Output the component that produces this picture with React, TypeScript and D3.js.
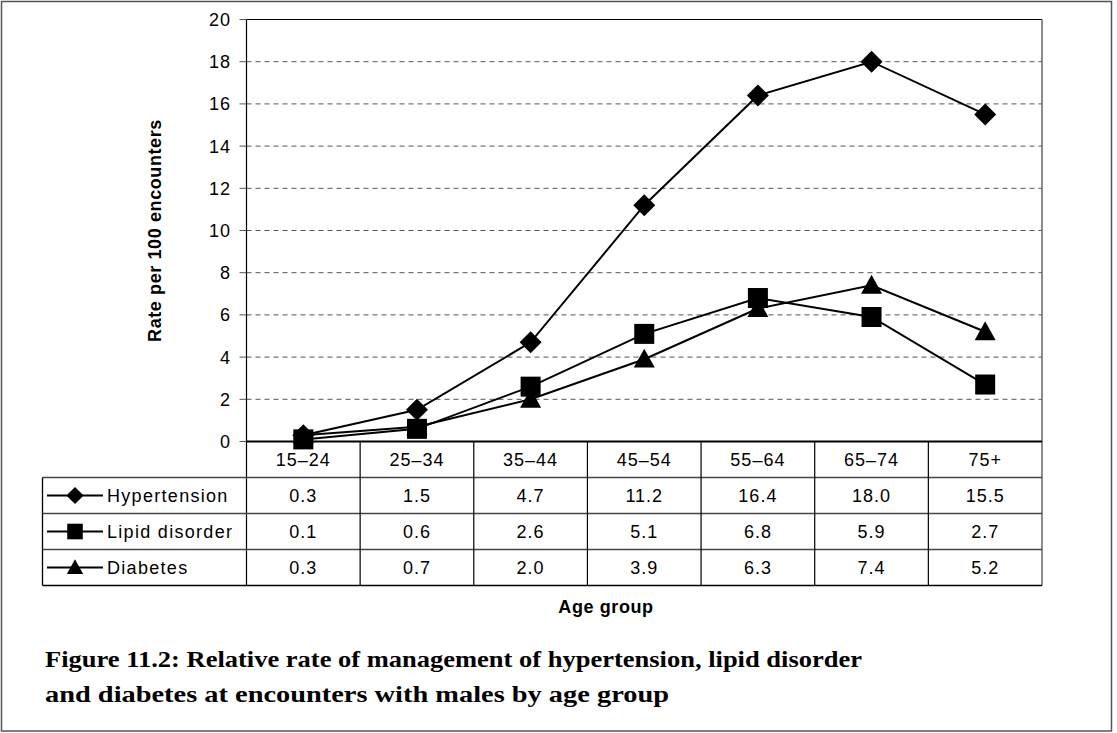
import React from "react";
import * as d3 from "d3";

const categories = ["15–24", "25–34", "35–44", "45–54", "55–64", "65–74", "75+"];
const hypertension = [0.3, 1.5, 4.7, 11.2, 16.4, 18.0, 15.5];
const lipid = [0.1, 0.6, 2.6, 5.1, 6.8, 5.9, 2.7];
const diabetes = [0.3, 0.7, 2.0, 3.9, 6.3, 7.4, 5.2];
const seriesNames = ["Hypertension", "Lipid disorder", "Diabetes"];
const yTicks = [0, 2, 4, 6, 8, 10, 12, 14, 16, 18, 20];

const series = [
  { name: seriesNames[0], values: hypertension, marker: "diamond" },
  { name: seriesNames[1], values: lipid, marker: "square" },
  { name: seriesNames[2], values: diabetes, marker: "triangle" },
];

const W = 1117;
const H = 733;
const left = 246.5;
const right = 1042;
const top = 19.5;
const bottom = 441.5;
const tableLeft = 42.5;
const rowH = 36;
const sans = "'Liberation Sans', Arial, sans-serif";
const serif = "'Liberation Serif', 'Times New Roman', serif";

function Marker({ type, x, y, k = 1 }: { type: string; x: number; y: number; k?: number }) {
  if (type === "diamond") {
    const s = 11 * k;
    return <path d={`M${x},${y - s}L${x + s},${y}L${x},${y + s}L${x - s},${y}Z`} fill="#000" />;
  }
  if (type === "square") {
    const s = 10 * k;
    return <rect x={x - s} y={y - s} width={2 * s} height={2 * s} fill="#000" />;
  }
  const s = 10.5 * k;
  return <path d={`M${x},${y - s}L${x + s},${y + s * 0.8}L${x - s},${y + s * 0.8}Z`} fill="#000" />;
}

export default function App() {
  const x = d3.scaleBand<string>().domain(categories).range([left, right]);
  const y = d3.scaleLinear().domain([0, 20]).range([bottom, top]);
  const cx = (c: string) => (x(c) as number) + x.bandwidth() / 2;
  const line = d3
    .line<number>()
    .x((_, i) => cx(categories[i]))
    .y((v) => y(v));

  const rowTop = (i: number) => bottom + rowH * (i + 1);

  return (
    <svg width={W} height={H} style={{ position: "absolute", left: 0, top: 0, background: "#fff" }}>
      <rect x={1.5} y={1.5} width={1110} height={729.5} fill="#fff" stroke="#555" strokeWidth={1.5} />
      {/* gridlines */}
      {yTicks.filter((t) => t > 0 && t < 20).map((t) => (
        <line key={t} x1={left} x2={right} y1={y(t)} y2={y(t)} stroke="#555" strokeDasharray="5,4" strokeWidth={1} />
      ))}
      {/* plot box */}
      <line x1={left} x2={right} y1={top} y2={top} stroke="#000" strokeWidth={1.2} />
      <line x1={right} x2={right} y1={top} y2={rowTop(3)} stroke="#666" strokeWidth={1.5} />
      <line x1={left} x2={left} y1={top} y2={rowTop(3)} stroke="#000" strokeWidth={1.2} />
      {/* y ticks */}
      {yTicks.map((t) => (
        <g key={t}>
          <line x1={left - 7} x2={left} y1={y(t)} y2={y(t)} stroke="#555" strokeWidth={1} />
          <text x={231} y={y(t)} dy="0.36em" textAnchor="end" fontFamily={sans} fontSize={18} letterSpacing={1}>
            {t}
          </text>
        </g>
      ))}
      <text
        transform={`translate(161,${(top + bottom) / 2}) rotate(-90)`}
        textAnchor="middle"
        fontFamily={sans}
        fontWeight="bold"
        fontSize={18}
        letterSpacing={0.6}
      >
        Rate per 100 encounters
      </text>
      {/* table */}
      {[0, 1, 2].map((i) => (
        <line key={i} x1={tableLeft} x2={right} y1={rowTop(i)} y2={rowTop(i)} stroke="#444" strokeWidth={1.3} />
      ))}
      <line x1={tableLeft} x2={right} y1={rowTop(3)} y2={rowTop(3)} stroke="#000" strokeWidth={1.3} />
      <line x1={tableLeft} x2={tableLeft} y1={rowTop(0)} y2={rowTop(3)} stroke="#000" strokeWidth={1.3} />
      {categories.slice(1).map((c) => (
        <line key={c} x1={x(c) as number} x2={x(c) as number} y1={bottom} y2={rowTop(3)} stroke="#000" strokeWidth={1.2} />
      ))}
      {categories.map((c) => (
        <text key={c} x={cx(c)} y={bottom + rowH / 2} dy="0.36em" textAnchor="middle" fontFamily={sans} fontSize={18} letterSpacing={1}>
          {c}
        </text>
      ))}
      {series.map((s, i) => {
        const my = rowTop(i) + rowH / 2;
        return (
          <g key={s.name}>
            <line x1={47} x2={103} y1={my} y2={my} stroke="#000" strokeWidth={2} />
            <Marker type={s.marker} x={75} y={my} k={0.78} />
            <text x={107} y={my} dy="0.36em" fontFamily={sans} fontSize={18} letterSpacing={1.3}>
              {s.name}
            </text>
            {s.values.map((v, j) => (
              <text key={j} x={cx(categories[j])} y={my} dy="0.36em" textAnchor="middle" fontFamily={sans} fontSize={18} letterSpacing={1}>
                {v.toFixed(1)}
              </text>
            ))}
          </g>
        );
      })}
      {/* x axis line */}
      <line x1={left} x2={right} y1={bottom} y2={bottom} stroke="#000" strokeWidth={2} />
      {/* series */}
      {series.map((s) => (
        <g key={s.name}>
          <path d={line(s.values) as string} fill="none" stroke="#000" strokeWidth={2} />
          {s.values.map((v, j) => (
            <Marker key={j} type={s.marker} x={cx(categories[j])} y={y(v)} />
          ))}
        </g>
      ))}
      <text x={606} y={607} dy="0.36em" textAnchor="middle" fontFamily={sans} fontWeight="bold" fontSize={18} letterSpacing={0.6}>
        Age group
      </text>
      <text x={45} y={667} fontFamily={serif} fontWeight="bold" fontSize={24} textLength={817} lengthAdjust="spacingAndGlyphs">
        Figure 11.2: Relative rate of management of hypertension, lipid disorder
      </text>
      <text x={45} y={702} fontFamily={serif} fontWeight="bold" fontSize={24} textLength={624} lengthAdjust="spacingAndGlyphs">
        and diabetes at encounters with males by age group
      </text>
    </svg>
  );
}
